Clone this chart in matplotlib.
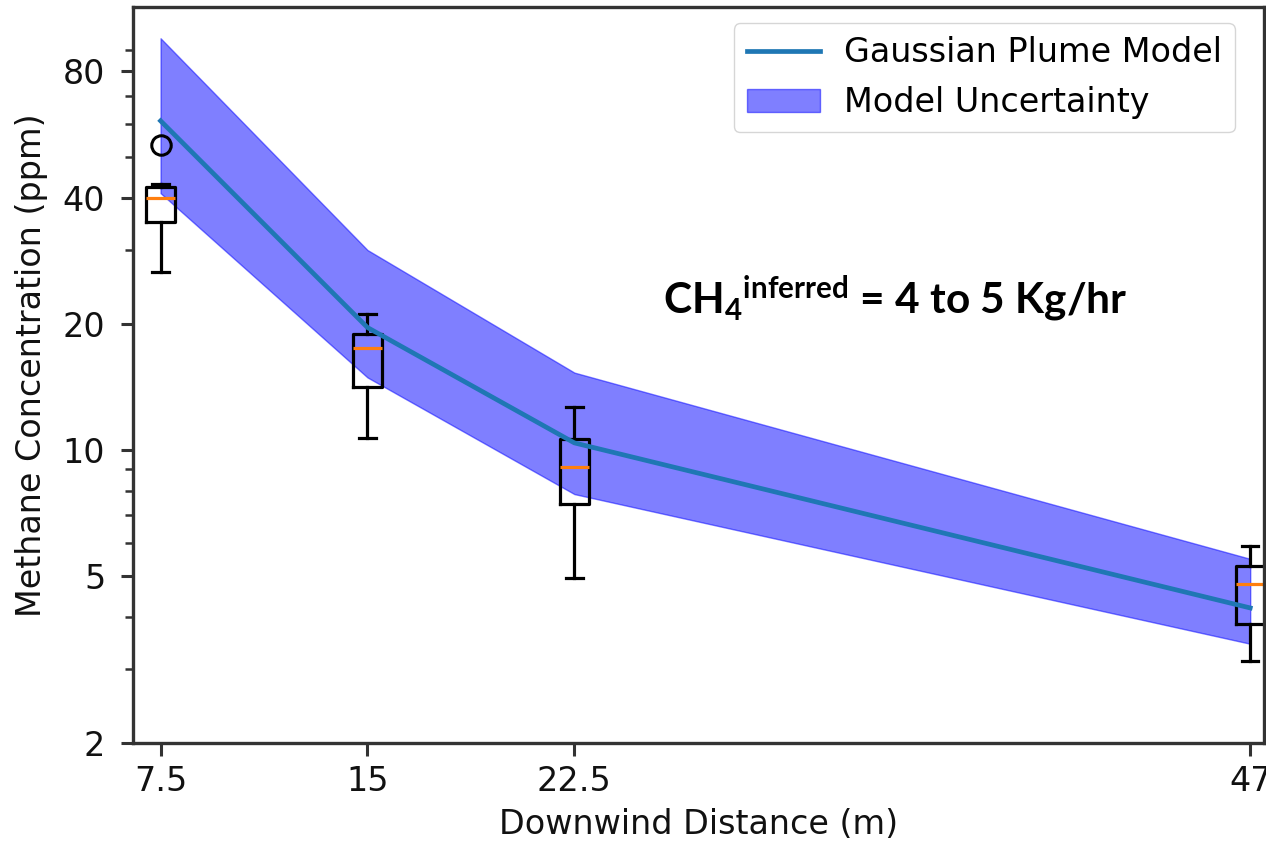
import matplotlib
matplotlib.use("Agg")
import matplotlib.pyplot as plt
from matplotlib.ticker import FixedLocator, FixedFormatter, LogLocator, NullFormatter

# ---- data ----
distances = [7.5, 15, 22.5, 47]
x_tick_labels = ["7.5", "15", "22.5", "47"]
y_ticks = [2, 5, 10, 20, 40, 80]

model_mean = [61.0, 19.6, 10.4, 4.2]
model_low = [41.0, 14.9, 7.85, 3.45]
model_high = [96.0, 30.0, 15.3, 5.5]

box_med = [40.0, 17.5, 9.1, 4.8]
box_q1 = [35.0, 14.1, 7.45, 3.85]
box_q3 = [42.3, 18.9, 10.6, 5.28]
box_whislo = [26.6, 10.7, 4.95, 3.13]
box_whishi = [43.2, 21.1, 12.7, 5.9]
box_fliers = [[53.3], [], [], []]

plt.rcParams['font.family'] = ['DejaVu Sans']
plt.rcParams['mathtext.fontset'] = 'custom'
plt.rcParams['mathtext.rm'] = 'Lato:bold'
plt.rcParams['mathtext.bf'] = 'Lato:bold'
plt.rcParams['mathtext.it'] = 'Lato:bold'

fig = plt.figure(figsize=(12.66, 8.5), dpi=100)
ax = fig.add_axes([133 / 1266, (850 - 743) / 850, 1131 / 1266, 736 / 850])

band = ax.fill_between(distances, model_low, model_high, color='blue', alpha=0.5,
                       label='Model Uncertainty', zorder=1)
line, = ax.plot(distances, model_mean, color='#1f77b4', lw=3.4,
                label='Gaussian Plume Model', zorder=3)

stats = []
for i in range(len(distances)):
    stats.append(dict(med=box_med[i], q1=box_q1[i], q3=box_q3[i],
                      whislo=box_whislo[i], whishi=box_whishi[i], fliers=box_fliers[i]))
lw = 2.3
ax.bxp(stats, positions=distances, widths=1.05, capwidths=0.6, manage_ticks=False,
       boxprops=dict(color='black', lw=lw),
       whiskerprops=dict(color='black', lw=lw),
       capprops=dict(color='black', lw=lw),
       medianprops=dict(color='#ff7f0e', lw=lw),
       flierprops=dict(marker='o', markerfacecolor='none', markeredgecolor='black',
                       markersize=14, markeredgewidth=2.2),
       zorder=2)

ax.set_yscale('log')
ax.set_ylim(2, 114)
ax.set_xlim(6.5, 47.5)
ax.yaxis.set_major_locator(FixedLocator(y_ticks))
ax.yaxis.set_major_formatter(FixedFormatter([str(v) for v in y_ticks]))
ax.yaxis.set_minor_locator(LogLocator(base=10, subs=(2, 3, 4, 5, 6, 7, 8, 9)))
ax.yaxis.set_minor_formatter(NullFormatter())
ax.set_xticks(distances)
ax.set_xticklabels(x_tick_labels)

spine_c = '#333333'
for s in ax.spines.values():
    s.set_color(spine_c)
    s.set_linewidth(2.4)
ax.tick_params(axis='both', which='major', length=9, width=2.2, color=spine_c,
               labelsize=24, labelcolor='#111111')
ax.tick_params(axis='x', which='major', pad=7)
ax.tick_params(axis='y', which='major', pad=11)
ax.tick_params(axis='y', which='minor', length=6, width=1.8, color=spine_c)

ax.set_xlabel('Downwind Distance (m)', fontsize=24, color='#111111')
ax.set_ylabel('Methane Concentration (ppm)', fontsize=24, color='#111111')
ax.xaxis.set_label_coords(0.5, -0.088)
ax.yaxis.set_label_coords(-0.075, 0.513)

leg = ax.legend(handles=[line, band], loc='upper right', bbox_to_anchor=(0.9743, 0.9783),
                borderaxespad=0, fontsize=24, handlelength=2.2, handletextpad=0.7)
leg.get_frame().set_edgecolor('0.8')

ax.text(0.4686, 0.584, r'$\mathbf{CH_4{}^{inferred}}$ = 4 to 5 Kg/hr', transform=ax.transAxes,
        fontsize=30.5, fontweight='bold', family='Lato', va='baseline', ha='left', color='black')

fig.savefig('out.png', dpi=100)
